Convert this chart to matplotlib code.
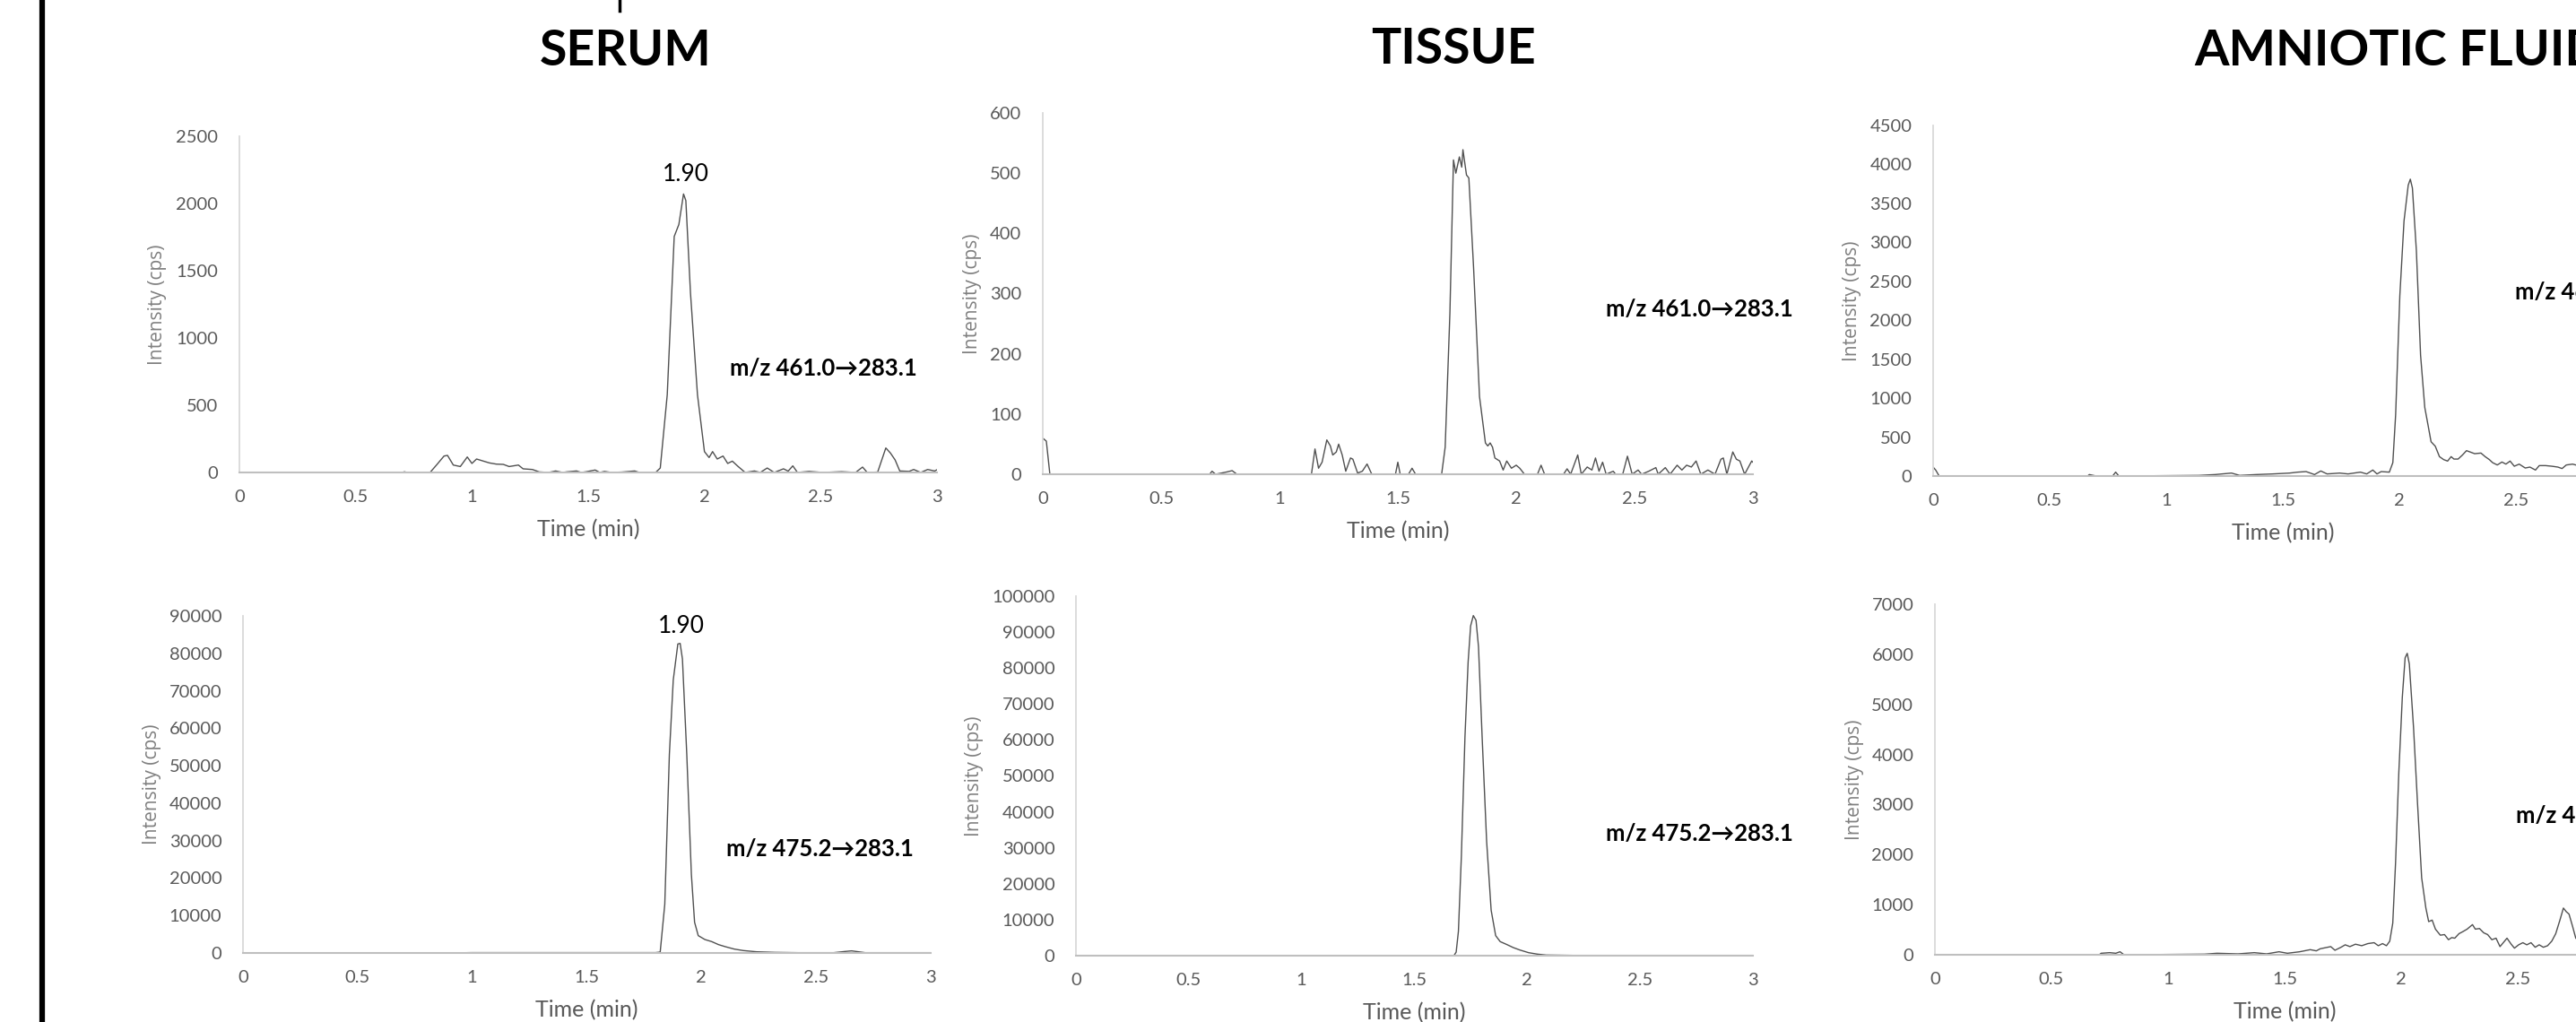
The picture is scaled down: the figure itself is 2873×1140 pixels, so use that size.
import matplotlib
matplotlib.use("Agg")
import matplotlib.pyplot as plt
from matplotlib.lines import Line2D

W, H = 2873, 1140

# chromatogram traces, (time in min, intensity in cps)
serum_461 = [(0, 0), (0.70, 0), (0.71, 5), (0.72, 0), (0.82, 0), (0.85, 60), (0.88, 122), (0.895, 127),
             (0.92, 55), (0.95, 44), (0.98, 115), (1.0, 67), (1.02, 100), (1.05, 84), (1.075, 71),
             (1.105, 62), (1.135, 60), (1.16, 44), (1.2, 55), (1.22, 27), (1.26, 22), (1.29, 4), (1.33, 0),
             (1.36, 11), (1.39, 0), (1.41, 5), (1.45, 11), (1.47, 0), (1.49, 5), (1.53, 18), (1.55, 0),
             (1.57, 8), (1.60, 0), (1.645, 3), (1.70, 11), (1.72, 0), (1.79, 0), (1.81, 33), (1.84, 578),
             (1.87, 1755), (1.89, 1844), (1.91, 2071), (1.92, 2022), (1.94, 1333), (1.97, 578), (2.0, 155),
             (2.02, 111), (2.035, 155), (2.055, 100), (2.08, 122), (2.10, 67), (2.12, 84), (2.145, 44),
             (2.175, 0), (2.215, 11), (2.24, 0), (2.27, 33), (2.30, 0), (2.34, 27), (2.36, 10), (2.38, 49),
             (2.40, 0), (2.45, 8), (2.51, 0), (2.59, 6), (2.65, 0), (2.68, 40), (2.70, 0), (2.745, 3),
             (2.78, 182), (2.80, 144), (2.82, 93), (2.84, 11), (2.88, 8), (2.90, 22), (2.93, 0), (2.96, 22),
             (2.99, 11), (3.0, 20)]

serum_475 = [(0, 0), (0.9, 0), (1.0, 100), (1.5, 100), (1.80, 100), (1.82, 240), (1.84, 13000),
             (1.86, 53000), (1.877, 72900), (1.897, 82500), (1.907, 82650), (1.917, 78500), (1.936, 53000),
             (1.956, 21000), (1.97, 8200), (1.986, 4630), (2.015, 3590), (2.045, 3030), (2.074, 2240),
             (2.104, 1680), (2.143, 1040), (2.183, 640), (2.24, 320), (2.32, 160), (2.42, 80), (2.577, 80),
             (2.626, 400), (2.655, 560), (2.685, 320), (2.714, 80), (3.0, 80)]

tissue_461 = [(0, 60), (0.015, 55), (0.03, 0), (0.705, 0), (0.715, 5), (0.73, 0), (0.78, 4), (0.80, 6),
              (0.82, 0), (1.135, 0), (1.15, 42), (1.165, 10), (1.18, 20), (1.20, 57), (1.215, 47),
              (1.225, 32), (1.24, 37), (1.25, 50), (1.265, 32), (1.28, 5), (1.30, 27), (1.31, 25),
              (1.33, 2), (1.35, 5), (1.37, 17), (1.39, 0), (1.49, 0), (1.50, 20), (1.51, 0), (1.545, 0),
              (1.56, 10), (1.575, 0), (1.685, 0), (1.70, 45), (1.72, 268), (1.735, 522), (1.745, 500),
              (1.76, 527), (1.77, 510), (1.775, 539), (1.79, 497), (1.80, 492), (1.82, 343), (1.845, 129),
              (1.87, 52), (1.88, 47), (1.89, 52), (1.90, 45), (1.91, 27), (1.93, 22), (1.945, 7),
              (1.96, 22), (1.98, 10), (2.0, 15), (2.015, 10), (2.035, 0), (2.09, 0), (2.105, 15),
              (2.12, 0), (2.20, 0), (2.215, 9), (2.23, 0), (2.26, 32), (2.275, 0), (2.30, 12), (2.32, 7),
              (2.335, 27), (2.35, 5), (2.365, 20), (2.38, 0), (2.41, 5), (2.42, 0), (2.45, 0), (2.47, 30),
              (2.49, 0), (2.515, 7), (2.53, 0), (2.56, 5), (2.59, 11), (2.60, 0), (2.63, 11), (2.65, 0),
              (2.68, 15), (2.70, 7), (2.72, 15), (2.74, 12), (2.76, 22), (2.78, 0), (2.81, 7), (2.84, 0),
              (2.865, 25), (2.875, 27), (2.89, 0), (2.915, 37), (2.93, 25), (2.945, 22), (2.965, 0),
              (2.995, 22), (3.0, 20)]

tissue_475 = [(0, 0), (1.675, 0), (1.685, 1000), (1.695, 6800), (1.708, 27600), (1.724, 60900),
              (1.738, 81700), (1.749, 91700), (1.761, 94600), (1.773, 93300), (1.784, 85900),
              (1.80, 60900), (1.82, 31800), (1.84, 12650), (1.86, 5570), (1.88, 3910), (1.91, 3080),
              (1.938, 2250), (1.967, 1580), (2.006, 830), (2.045, 420), (2.084, 170), (2.20, 80), (3.0, 80)]

amniotic_461 = [(0, 115), (0.011, 77), (0.026, 0), (0.663, 0), (0.67, 19), (0.70, 0), (0.77, 0),
                (0.783, 50), (0.797, 0), (1.14, 8), (1.21, 19), (1.28, 38), (1.315, 8), (1.386, 19),
                (1.457, 27), (1.529, 38), (1.564, 50), (1.60, 57), (1.636, 19), (1.663, 65), (1.69, 27),
                (1.744, 38), (1.78, 27), (1.833, 50), (1.86, 27), (1.886, 77), (1.904, 27), (1.922, 57),
                (1.957, 50), (1.972, 172), (1.984, 785), (2.002, 2317), (2.020, 3275), (2.038, 3734),
                (2.047, 3811), (2.056, 3696), (2.073, 2892), (2.091, 1551), (2.109, 881), (2.122, 670),
                (2.136, 440), (2.154, 383), (2.172, 249), (2.19, 211), (2.207, 192), (2.222, 249),
                (2.234, 218), (2.252, 218), (2.27, 268), (2.288, 326), (2.306, 306), (2.323, 287),
                (2.35, 295), (2.368, 249), (2.386, 211), (2.40, 172), (2.42, 142), (2.44, 180), (2.457, 153),
                (2.475, 192), (2.493, 126), (2.514, 153), (2.54, 103), (2.56, 115), (2.584, 77), (2.60, 134),
                (2.627, 134), (2.654, 126), (2.68, 115), (2.698, 96), (2.716, 142), (2.743, 153),
                (2.757, 142), (2.78, 130)]

amniotic_475 = [(0, 0), (0.705, 0), (0.713, 30), (0.75, 42), (0.776, 30), (0.794, 60), (0.811, 0),
                (1.157, 12), (1.21, 30), (1.30, 18), (1.37, 42), (1.423, 18), (1.476, 60), (1.512, 30),
                (1.565, 60), (1.61, 102), (1.636, 78), (1.653, 120), (1.698, 163), (1.716, 90),
                (1.742, 150), (1.76, 199), (1.78, 163), (1.804, 211), (1.831, 181), (1.857, 223),
                (1.884, 241), (1.902, 181), (1.92, 223), (1.937, 181), (1.951, 271), (1.964, 632),
                (1.976, 1836), (1.99, 3642), (2.005, 5147), (2.017, 5930), (2.026, 6020), (2.035, 5809),
                (2.053, 4545), (2.07, 3040), (2.088, 1535), (2.106, 933), (2.118, 662), (2.133, 692),
                (2.147, 512), (2.168, 391), (2.186, 403), (2.203, 301), (2.217, 343), (2.23, 331),
                (2.248, 421), (2.265, 463), (2.283, 512), (2.306, 602), (2.318, 512), (2.336, 524),
                (2.354, 439), (2.371, 403), (2.389, 301), (2.407, 331), (2.424, 163), (2.438, 241),
                (2.454, 331), (2.472, 211), (2.486, 132), (2.504, 199), (2.522, 241), (2.539, 199),
                (2.557, 241), (2.575, 150), (2.592, 199), (2.61, 150), (2.628, 181), (2.646, 271),
                (2.663, 421), (2.681, 692), (2.696, 933), (2.708, 861), (2.72, 813), (2.735, 572),
                (2.749, 331), (2.77, 250)]

column_titles = ["SERUM", "TISSUE", "AMNIOTIC FLUID"]
transitions = ["m/z 461.0\u2192283.1", "m/z 475.2\u2192283.1"]
x_ticks = [0, 0.5, 1, 1.5, 2, 2.5, 3]
x_tick_labels = ["0", "0.5", "1", "1.5", "2", "2.5", "3"]
peak_label = "1.90"

# layout in reference pixels: box = (x_left, x_right, y_top, y_zero), ylab = centre x of the y label
panels = [
    dict(data=serum_461, box=(267, 1045, 152, 527), ymax=2500, step=500, ylab=172,
         mz=0, mz_at=(814, 411), peak=(765, 195)),
    dict(data=serum_475, box=(271, 1038, 687, 1063), ymax=90000, step=10000, ylab=166,
         mz=1, mz_at=(810, 947), peak=(760, 698)),
    dict(data=tissue_461, box=(1163, 1955, 126, 529), ymax=600, step=100, ylab=1081,
         mz=0, mz_at=(1791, 345), peak=None),
    dict(data=tissue_475, box=(1200, 1955, 665, 1066), ymax=100000, step=10000, ylab=1083,
         mz=1, mz_at=(1791, 930), peak=None),
    dict(data=amniotic_461, box=(2156, 2936, 140, 531), ymax=4500, step=500, ylab=2062,
         mz=0, mz_at=(2805, 326), peak=None),
    dict(data=amniotic_475, box=(2158, 2938, 674, 1065), ymax=7000, step=1000, ylab=2065,
         mz=1, mz_at=(2806, 910), peak=None),
]
title_at = [(698, 57, "center"), (1621, 55, "center"), (2447, 57, "left")]

LATO = ["Lato", "DejaVu Sans"]
TICK_C = "#595959"


def fx(px):
    return px / W


def fy(py):
    return 1 - py / H


fig = plt.figure(figsize=(W / 100, H / 100), dpi=100)
fig.patch.set_facecolor("white")

for p in panels:
    x0, x1, yt, yz = p["box"]
    ax = fig.add_axes([fx(x0), fy(yz), (x1 - x0) / W, (yz - yt) / H])
    t, v = zip(*p["data"])
    ax.plot(t, v, color="#505050", lw=1.0)
    ax.set_xlim(0, 3)
    ax.set_ylim(0, p["ymax"])
    ax.set_xticks(x_ticks)
    ax.set_xticklabels(x_tick_labels)
    ax.set_yticks(range(0, p["ymax"] + 1, p["step"]))
    for s in ("top", "right"):
        ax.spines[s].set_visible(False)
    ax.spines["left"].set_color("#d9d9d9")
    ax.spines["bottom"].set_color("#bfbfbf")
    ax.spines["left"].set_linewidth(1.3)
    ax.spines["bottom"].set_linewidth(1.5)
    ax.tick_params(axis="both", length=0, labelcolor=TICK_C, labelsize=14.5)
    ax.tick_params(axis="x", pad=14)
    ax.tick_params(axis="y", pad=17)
    for lab in ax.get_xticklabels() + ax.get_yticklabels():
        lab.set_family(LATO)
    h = yz - yt
    ax.set_xlabel("Time (min)", family=LATO, fontsize=18, color=TICK_C)
    ax.xaxis.set_label_coords(0.5, -52 / h)
    ax.set_ylabel("Intensity (cps)", family=["Open Sans", "DejaVu Sans"], fontsize=15, color="#7f7f7f")
    ax.yaxis.set_label_coords(-(x0 - (p["ylab"] + 14)) / (x1 - x0), 0.5)

    mx, my = p["mz_at"]
    fig.text(fx(mx), fy(my), transitions[p["mz"]], family=LATO, fontweight="bold",
             fontsize=18.5, color="black", ha="left", va="center")
    if p["peak"]:
        px, py = p["peak"]
        fig.text(fx(px), fy(py), peak_label, family=LATO, fontsize=19, color="black",
                 ha="center", va="center")

for (tx, ty, ha), title in zip(title_at, column_titles):
    fig.text(fx(tx), fy(ty), title, family=LATO, fontweight="bold", fontsize=40,
             color="black", ha=ha, va="center")

# frame edge on the left and the cut-off stroke of a heading above
fig.add_artist(Line2D([fx(47), fx(47)], [0, 1], color="black", lw=4.5))
fig.add_artist(Line2D([fx(691), fx(691)], [1, fy(12)], color="black", lw=2.5))

fig.savefig("out.png", dpi=100)
